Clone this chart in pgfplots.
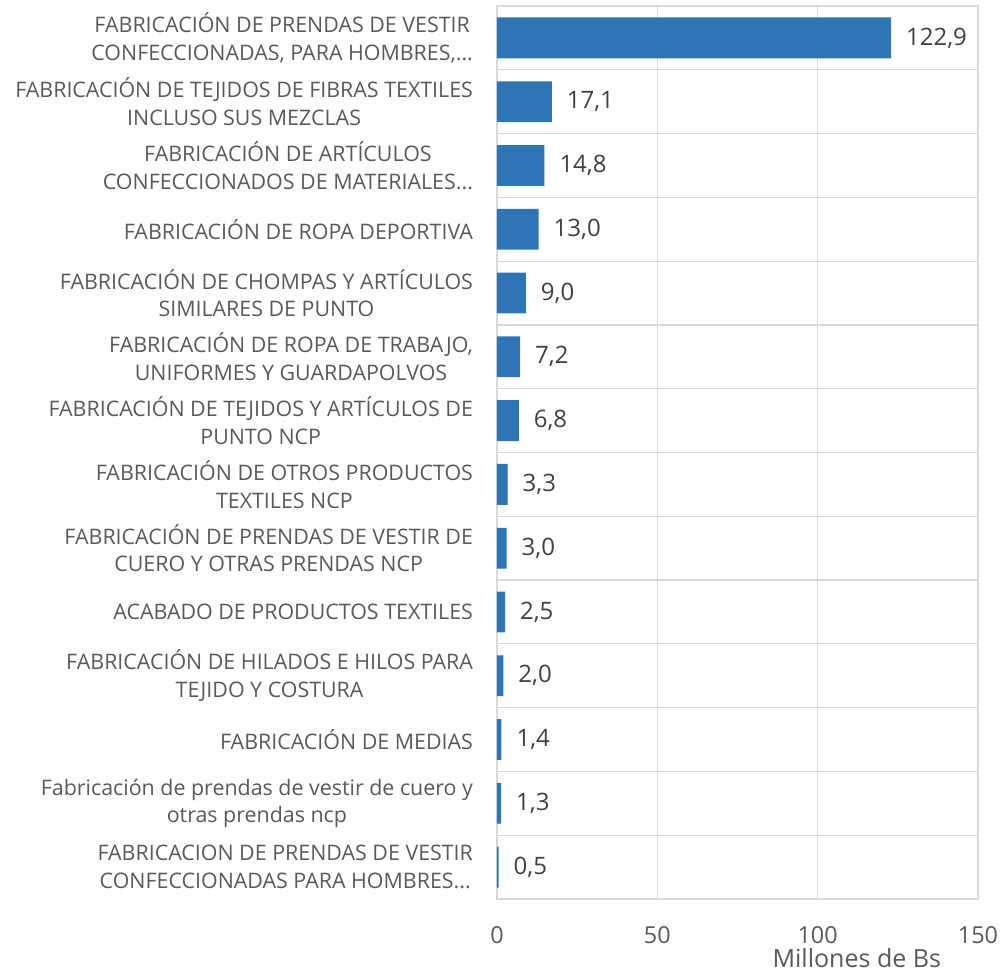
\documentclass[border=0pt]{standalone}
\usepackage{fontspec}
\setmainfont{Open Sans}
\usepackage{pgfplots}
\pgfplotsset{compat=1.18}
\definecolor{barblue}{HTML}{2E75B6}
\definecolor{gridgray}{HTML}{D9D9D9}
\definecolor{labgray}{HTML}{595959}
\definecolor{numgray}{HTML}{404040}
\newcommand{\dd}{.\kern0pt.\kern0pt.}

\begin{document}
\begin{tikzpicture}
% 1 px of the reference = 0.5pt
\useasboundingbox (-248.5pt,-37pt) rectangle (252pt,449.5pt);
\begin{axis}[
  scale only axis,
  width=240.5pt, height=446.5pt,
  xbar, bar width=0.64,
  xmin=0, xmax=150, ymin=-0.5, ymax=13.5,
  y dir=reverse,
  xtick={0,50,100,150},
  ytick={0,1,2,3,4,5,6,7,8,9,10,11,12,13},
  minor ytick={0.5,1.5,2.5,3.5,4.5,5.5,6.5,7.5,8.5,9.5,10.5,11.5,12.5},
  yticklabels={
    {FABRICACIÓN DE PRENDAS DE VESTIR\\CONFECCIONADAS, PARA HOMBRES,\dd},
    {FABRICACIÓN DE TEJIDOS DE FIBRAS TEXTILES\\INCLUSO SUS MEZCLAS},
    {FABRICACIÓN DE ARTÍCULOS\\CONFECCIONADOS DE MATERIALES\dd},
    {FABRICACIÓN DE ROPA DEPORTIVA},
    {FABRICACIÓN DE CHOMPAS Y ARTÍCULOS\\SIMILARES DE PUNTO},
    {FABRICACIÓN DE ROPA DE TRABAJO,\\UNIFORMES Y GUARDAPOLVOS},
    {FABRICACIÓN DE TEJIDOS Y ARTÍCULOS DE\\PUNTO NCP},
    {FABRICACIÓN DE OTROS PRODUCTOS\\TEXTILES NCP},
    {FABRICACIÓN DE PRENDAS DE VESTIR DE\\CUERO Y OTRAS PRENDAS NCP},
    {ACABADO DE PRODUCTOS TEXTILES},
    {FABRICACIÓN DE HILADOS E HILOS PARA\\TEJIDO Y COSTURA},
    {FABRICACIÓN DE MEDIAS},
    {Fabricación de prendas de vestir de cuero y\\otras prendas ncp},
    {FABRICACION DE PRENDAS DE VESTIR\\CONFECCIONADAS PARA HOMBRES\dd}
  },
  yticklabel style={align=center, font=\fontsize{10.7}{13.8}\selectfont, text=labgray, xshift=-8.5pt},
  xticklabel style={font=\fontsize{11.7}{14}\selectfont, text=labgray, anchor=base, yshift=-22pt},
  /pgf/number format/assume math mode=true,
  major tick length=0pt, minor tick length=0pt,
  xmajorgrids, yminorgrids,
  grid style={gridgray, line width=0.6pt},
  minor grid style={gridgray, line width=0.6pt},
  axis line style={gridgray, line width=0.6pt},
  xlabel={Millones de Bs},
  xlabel style={at={(axis description cs:0.748,0)}, anchor=base, yshift=-34pt,
    font=\fontsize{12.5}{15}\selectfont, text=labgray},
  nodes near coords,
  nodes near coords style={font=\fontsize{12}{14}\selectfont, text=numgray, anchor=west, xshift=4pt,
    /pgf/number format/.cd, use comma, fixed, fixed zerofill, precision=1},
]
\addplot[fill=barblue, draw=none] coordinates {
  (122.9,0) (17.1,1) (14.8,2) (13.0,3) (9.0,4) (7.2,5) (6.8,6)
  (3.3,7) (3.0,8) (2.5,9) (2.0,10) (1.4,11) (1.3,12) (0.5,13)
};
\end{axis}
\end{tikzpicture}
\end{document}
